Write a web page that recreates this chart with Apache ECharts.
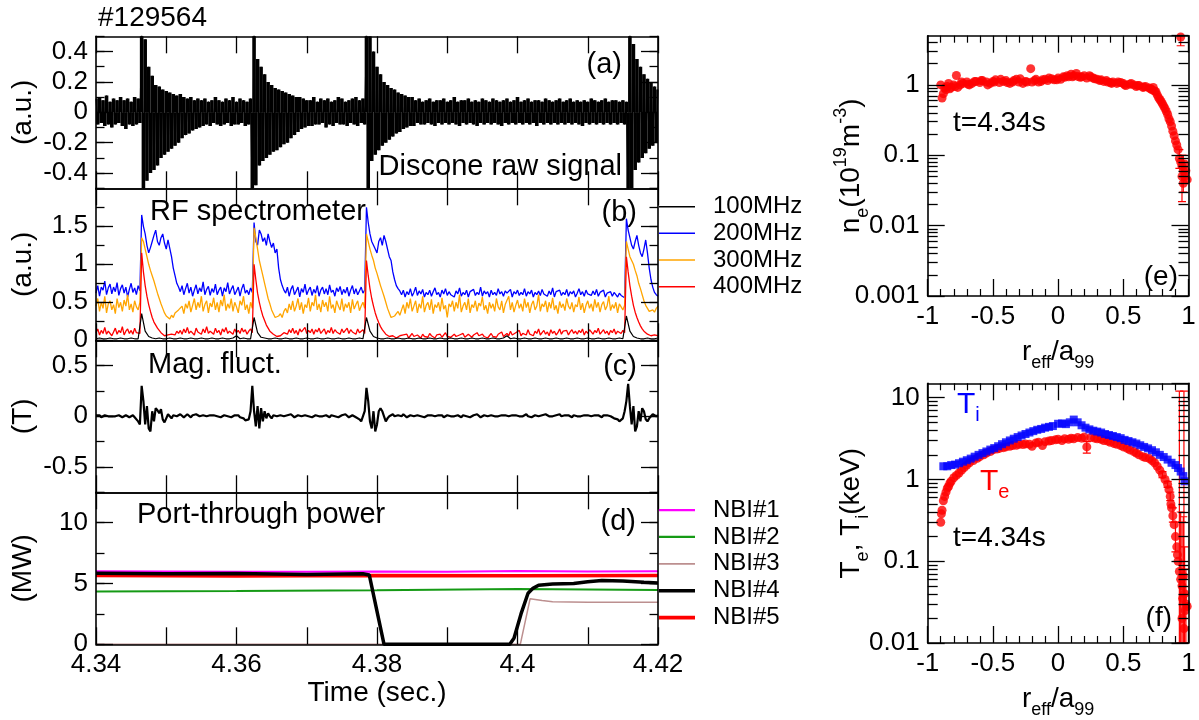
<!DOCTYPE html>
<html><head><meta charset="utf-8">
<script src="https://cdn.jsdelivr.net/npm/echarts@6.0.0/dist/echarts.min.js"></script>
<style>html,body{margin:0;padding:0;background:#fff}#c{width:1199px;height:720px}</style>
</head><body><div id="c"></div>
<script>
const FONT = '"Liberation Sans", Arial, sans-serif';
// ---------- time axis ----------
const tMin = 4.34, tMax = 4.42, tStep = 0.01;
// ---------- (a) discone raw signal ----------
const aStart = 4.34, aStep = 0.00025;
const discone = [
.09,-.08,.1,-.07,.08,-.09,.11,-.08,.07,-.1,
.09,-.08,.08,-.07,.1,-.09,.08,-.11,.09,-.08,
.07,-.09,.1,-.08,.09,-.07,.6,-.6,.48,-.45,
.3,-.4,.24,-.38,.18,-.35,.17,-.3,.15,-.28,
.14,-.26,.13,-.24,.12,-.22,.11,-.2,.12,-.17,
.1,-.15,.09,-.14,.1,-.12,.08,-.11,.09,-.1,
.08,-.09,.09,-.08,.07,-.09,.08,-.07,.1,-.08,
.08,-.09,.07,-.08,.09,-.07,.08,-.09,.1,-.08,
.07,-.08,.09,-.07,.08,-.09,.07,-.08,.09,-.6,
.6,-.48,.35,-.35,.3,-.32,.25,-.3,.2,-.28,
.18,-.26,.16,-.25,.15,-.23,.14,-.21,.13,-.2,
.12,-.17,.11,-.15,.1,-.13,.1,-.11,.09,-.1,
.08,-.09,.08,-.09,.1,-.08,.07,-.08,.09,-.07,
.08,-.1,.09,-.08,.07,-.09,.08,-.07,.1,-.08,
.09,-.08,.07,-.09,.08,-.07,.09,-.08,.1,-.09,
.08,-.07,.09,-.08,.6,-.6,.5,-.32,.4,-.28,
.3,-.25,.25,-.22,.2,-.2,.18,-.18,.16,-.16,
.15,-.14,.13,-.13,.12,-.11,.11,-.1,.1,-.09,
.1,-.09,.08,-.07,.09,-.08,.07,-.08,.08,-.07,
.09,-.08,.07,-.09,.08,-.07,.08,-.08,.09,-.07,
.07,-.08,.08,-.07,.1,-.08,.07,-.09,.08,-.07,
.08,-.08,.09,-.07,.07,-.08,.08,-.09,.07,-.07,
.09,-.08,.08,-.07,.07,-.08,.09,-.07,.08,-.08,
.07,-.09,.08,-.07,.09,-.08,.07,-.07,.08,-.08,
.1,-.07,.07,-.08,.08,-.07,.09,-.08,.07,-.07,
.08,-.09,.08,-.07,.07,-.08,.09,-.07,.08,-.08,
.07,-.07,.08,-.08,.09,-.07,.07,-.08,.08,-.07,
.09,-.08,.07,-.07,.08,-.08,.07,-.09,.08,-.07,
.07,-.08,.09,-.07,.08,-.08,.07,-.07,.08,-.08,
.09,-.07,.07,-.08,.08,-.07,.08,-.08,.07,-.07,
.08,-.08,.07,-.6,.6,-.5,.45,-.38,.35,-.33,
.3,-.3,.25,-.27,.22,-.24,.2,-.22,.17,-.2,.15];
const aMajor = [-0.4,-0.2,0,0.2,0.4];
// ---------- (b) RF spectrometer ----------
const rf100Start = 4.34, rf100Step = 0.0005;
const rf100 = [
.02,.03,.02,.02,.03,.02,.02,.03,.02,.02,
.03,.02,.02,.35,.12,.05,.03,.02,.03,.02,
.02,.03,.02,.02,.03,.02,.02,.03,.02,.02,
.03,.02,.02,.03,.02,.02,.03,.02,.02,.03,
.06,.02,.03,.02,.02,.3,.1,.04,.03,.02,
.02,.03,.02,.02,.03,.02,.02,.03,.02,.02,
.03,.02,.02,.03,.02,.02,.03,.02,.02,.03,
.02,.02,.03,.02,.02,.03,.02,.3,.12,.05,
.03,.02,.02,.03,.02,.02,.03,.02,.02,.03,
.02,.02,.03,.02,.02,.03,.02,.02,.03,.02,
.02,.03,.02,.02,.03,.02,.02,.03,.02,.02,
.03,.02,.02,.03,.02,.02,.03,.06,.02,.03,
.02,.02,.03,.02,.02,.03,.02,.02,.03,.02,
.02,.03,.02,.02,.03,.02,.02,.03,.02,.02,
.03,.02,.02,.03,.02,.02,.03,.02,.02,.03,
.02,.32,.12,.05,.03,.02,.02,.03,.02,.02,.03];
const rfStart = 4.34, rfStep = 0.00025;
const rf200 = [
.62,.72,.58,.7,.66,.78,.6,.69,.74,.61,
.7,.64,.76,.59,.68,.73,.62,.7,.57,.67,
.75,.63,.69,.6,.72,.65,
1.65,1.5,1.4,1.25,1.15,1.22,1.3,1.38,1.45,1.3,1.25,1.35,1.4,1.28,1.2,1.32,1.3,1.1,.95,.85,.75,.7,
.64,.72,.6,.68,.75,.62,.7,.58,.66,.73,
.61,.69,.64,.77,.6,.67,.71,.59,.68,.63,
.74,.6,.66,.7,.58,.69,.64,.76,.61,.67,
.72,.6,.65,.7,.58,.68,.74,.62,.66,.6,.69,.63,
1.55,1.3,1.25,1.45,1.4,1.3,1.35,1.25,1.4,1.3,1.22,1.28,1.15,1.2,.95,.8,.72,.66,
.62,.7,.58,.67,.72,.6,.65,.7,.57,.68,
.63,.74,.6,.66,.7,.59,.67,.62,.72,.58,
.66,.7,.61,.68,.6,.73,.63,.66,.58,.69,
.64,.71,.6,.67,.62,.7,.58,.66,.72,.61,.68,.6,.65,.7,.62,.66,
1.75,1.55,1.4,1.3,1.25,1.2,1.15,1.3,1.35,1.25,1.38,1.3,1.2,1.1,1.05,.9,.8,.72,.68,.65,
.6,.66,.57,.64,.6,.68,.58,.63,.7,.59,
.65,.61,.67,.57,.63,.6,.66,.58,.64,.69,
.6,.63,.57,.66,.61,.68,.59,.64,.6,.62,
.57,.65,.61,.69,.58,.63,.6,.66,.57,.64,
.62,.67,.59,.63,.6,.7,.58,.65,.61,.64,
.57,.66,.6,.63,.59,.68,.61,.64,.58,.65,
.62,.6,.67,.57,.64,.61,.66,.59,.63,.6,
.68,.58,.64,.61,.66,.57,.63,.6,.65,.59,
.67,.61,.63,.58,.65,.6,.69,.57,.64,.62,
.66,.59,.63,.6,.67,.58,.64,.61,.65,.57,
.62,.68,.6,.64,.58,.66,.61,.63,.59,.65,
.6,.67,.58,.63,.61,.66,.57,.62,.6,.64,
.58,.63,.6,.57,.62,.59,.61,.56,
1.6,1.45,1.35,1.25,1.2,1.3,1.38,1.25,1.15,1.1,1.2,1.32,1.15,.95,.8,.7,.63,.6,.58];
const rf300 = [
.45,.55,.38,.5,.42,.58,.36,.48,.52,.4,
.47,.35,.55,.43,.5,.38,.53,.45,.6,.4,
.48,.37,.52,.44,.4,.5,
1.35,1.3,1.2,1.1,1.0,.92,.85,.78,.7,.62,.55,.48,.42,.36,.32,.3,.28,.33,.3,.36,.34,.4,
.38,.45,.35,.48,.42,.52,.37,.46,.55,.4,
.5,.43,.58,.38,.47,.52,.36,.49,.44,.56,
.4,.5,.37,.53,.45,.6,.39,.48,.42,.55,
.38,.5,.44,.36,.52,.46,.58,.4,.47,.35,.5,.42,
1.48,1.35,1.2,1.05,.95,.85,.75,.65,.55,.48,.4,.35,.3,.28,.32,.35,.3,.38,
.42,.36,.48,.4,.52,.38,.45,.55,.4,.5,
.35,.47,.43,.56,.38,.5,.45,.6,.4,.48,
.37,.53,.44,.5,.38,.58,.42,.47,.36,.52,
.45,.4,.55,.38,.48,.43,.5,.36,.54,.41,.47,.52,.39,.45,.5,.42,
1.4,1.3,1.2,1.12,1.05,.95,.88,.8,.72,.65,.58,.5,.42,.36,.3,.28,.32,.35,.38,.33,
.4,.47,.35,.5,.42,.55,.38,.45,.52,.36,
.48,.42,.58,.37,.46,.5,.4,.54,.35,.47,
.43,.5,.38,.56,.41,.46,.3,.48,.44,.52,
.38,.5,.42,.6,.37,.45,.5,.4,.55,.36,
.47,.43,.52,.38,.49,.45,.57,.4,.46,.35,
.5,.42,.48,.38,.55,.44,.4,.52,.36,.47,
.45,.58,.4,.5,.37,.46,.53,.42,.48,.38,
.55,.43,.5,.36,.47,.52,.4,.45,.6,.38,
.48,.44,.52,.37,.5,.42,.56,.4,.46,.35,
.51,.43,.48,.39,.55,.45,.41,.5,.37,.47,
.44,.57,.4,.49,.36,.46,.52,.42,.48,.38,
.54,.43,.5,.37,.47,.51,.4,.45,.58,.39,
.47,.42,.5,.36,.48,.44,.4,.46,
1.3,1.2,1.1,1.05,1.0,.92,.85,.75,.68,.6,.52,.46,.42,.38,.36,.4,.37,.42,.45];
const rf400 = [
.1,.15,.07,.13,.09,.17,.08,.12,.14,.06,
.11,.16,.08,.13,.1,.18,.07,.12,.15,.09,
.13,.08,.16,.1,.12,.09,
1.15,.9,.72,.58,.47,.38,.3,.24,.2,.16,.13,.1,.08,.06,.05,.07,.05,.08,.1,.07,.12,.09,
.13,.08,.15,.1,.17,.09,.12,.14,.07,.16,
.11,.13,.08,.15,.1,.18,.09,.12,.14,.08,
.16,.1,.13,.07,.15,.11,.17,.09,.12,.14,
.08,.15,.1,.13,.09,.16,.11,.14,.08,.12,.15,.1,
1.0,.8,.62,.5,.4,.32,.26,.2,.16,.12,.1,.08,.06,.05,.07,.06,.08,.1,
.12,.08,.14,.1,.16,.09,.13,.07,.15,.11,
.12,.17,.09,.13,.1,.15,.08,.14,.11,.16,
.09,.12,.15,.08,.13,.1,.17,.09,.14,.11,
.13,.08,.15,.1,.12,.16,.09,.14,.11,.13,.08,.15,.1,.12,.14,.09,
1.05,.85,.68,.55,.45,.36,.29,.23,.18,.14,.11,.08,.06,.05,.04,.06,.05,.03,.05,.06,
.04,.07,.05,.08,.03,.06,.09,.05,.04,.07,
.06,.03,.08,.05,.07,.04,.09,.06,.05,.03,
.07,.05,.08,.04,.06,.1,.05,.07,.04,.06,
.08,.05,.03,.07,.06,.09,.04,.05,.08,.06,
.04,.07,.05,.1,.06,.04,.08,.05,.07,.03,
.06,.09,.05,.07,.04,.08,.06,.11,.05,.07,
.09,.06,.12,.07,.05,.1,.08,.13,.06,.09,
.11,.07,.14,.08,.1,.06,.12,.09,.15,.07,
.1,.13,.08,.11,.06,.14,.09,.12,.07,.1,
.15,.08,.12,.1,.13,.07,.11,.14,.09,.12,
.08,.13,.1,.15,.07,.12,.09,.14,.11,.08,
.13,.1,.16,.08,.11,.14,.09,.12,.07,.13,
.1,.15,.08,.12,.11,.09,.13,.1,
1.1,.9,.72,.58,.46,.37,.3,.24,.19,.15,.12,.1,.08,.07,.06,.05,.07,.05,.06];
const bMajor = [0,0.5,1,1.5];
// ---------- (c) magnetic fluctuation ----------
const magStart = 4.34, magStep = 0.00025;
const magFluct = [
.01,0,.01,-.01,0,.01,.01,0,-.01,0,
.01,0,.01,.01,0,-.01,0,.01,0,-.01,
0,.01,-.01,-.02,-.05,-.08,.3,.15,-.08,.1,
-.12,-.15,.05,-.05,.08,.06,.03,.07,-.03,-.06,
-.02,.02,0,-.02,.01,.02,0,-.01,.02,.01,
-.01,0,.02,.01,-.01,.01,0,.02,.01,0,
-.01,.01,.02,0,-.01,.01,0,.01,.02,0,
.01,-.01,0,.01,.02,0,.01,-.01,0,.01,
0,.01,-.01,0,-.02,-.04,-.05,-.03,.05,.3,
.05,-.1,.1,-.12,.08,-.05,.05,-.02,.03,0,
-.02,.01,.02,0,-.01,.01,.02,0,-.01,.01,
0,.02,.01,-.01,0,.01,.01,0,-.01,.01,
.02,0,.01,-.01,0,.01,.02,0,-.01,0,
.01,.01,0,-.01,.01,.02,0,.01,-.01,0,
.01,0,.02,.01,-.01,0,.01,0,-.01,-.02,
-.03,-.05,-.04,.05,.28,.15,-.05,-.12,.05,-.15,
-.08,.05,.08,.05,0,-.05,-.02,0,.01,.02,
0,-.01,.01,.01,0,.02,.01,-.01,0,.01,
.01,0,-.01,.01,.02,0,.01,-.01,0,.01,
0,.01,.02,0,-.01,.01,0,.01,-.01,0,
.01,.02,0,-.01,0,.01,.01,0,-.01,.01,
.02,0,.01,-.01,0,.01,0,.02,.01,-.01,
0,.01,.01,0,-.01,.01,.02,0,.01,0,
-.01,.01,0,.01,.02,0,-.01,.01,0,.01,
.01,0,-.01,0,.01,.02,0,.01,-.01,0,
.01,.01,0,-.01,.01,0,.02,.01,0,-.01,
0,.01,.01,0,.02,0,-.01,.01,0,.01,
0,-.01,.01,.02,0,.01,0,-.01,.01,0,
.01,.02,0,-.01,.01,0,.01,0,-.01,.01,
0,.01,.02,0,-.01,-.02,-.01,-.03,-.05,-.04,
-.02,.05,.15,.32,.1,-.08,.1,-.15,-.1,.05,
-.05,.08,.05,-.03,-.05,-.02,0,.02,.01,0,.01];
const cMajor = [-0.5,0,0.5];
// ---------- (d) port-through power ----------
const nbi1T = [4.34,4.35,4.36,4.37,4.38,4.39,4.40,4.41,4.42];
const nbi1  = [6.0,5.98,5.96,5.97,5.99,5.96,6.02,5.98,6.0];
const nbi2T = [4.34,4.36,4.38,4.40,4.42];
const nbi2  = [4.35,4.38,4.45,4.55,4.47];
const nbi3T = [4.34,4.4004,4.4018,4.4035,4.405,4.41,4.42];
const nbi3  = [0,0,3.75,3.6,3.5,3.45,3.45];
const nbi4T = [4.34,4.35,4.36,4.37,4.378,4.3789,4.381,4.3989,4.3995,4.4005,4.4015,4.4022,4.403,4.405,4.408,4.41,4.412,4.415,4.418,4.42];
const nbi4  = [5.85,5.8,5.82,5.75,5.8,5.7,0,0,0.5,2.5,4.2,4.6,4.85,4.95,5.0,5.15,5.25,5.2,5.1,5.05];
const nbi5T = [4.34,4.36,4.38,4.40,4.42];
const nbi5  = [5.65,5.62,5.66,5.63,5.66];
const dMajor = [0,5,10];
// ---------- (e) density profile ----------
const neR = [-0.9,-0.89,-0.88,-0.87,-0.86,-0.85,-0.83,-0.82,-0.8,-0.78,-0.77,-0.75,-0.73,-0.7,-0.68,-0.66,-0.63,-0.6,-0.58,-0.55,-0.52,-0.5,-0.48,-0.45,-0.42,-0.4,-0.37,-0.35,-0.32,-0.3,-0.27,-0.25,-0.21,-0.2,-0.18,-0.15,-0.12,-0.1,-0.08,-0.05,-0.03,0,0.02,0.05,0.08,0.1,0.12,0.15,0.18,0.2,0.22,0.25,0.28,0.3,0.33,0.35,0.38,0.4,0.42,0.45,0.48,0.5,0.52,0.55,0.58,0.6,0.62,0.65,0.67,0.7,0.72,0.74,0.76,0.78,0.8,0.82,0.84,0.86,0.87,0.88,0.89,0.9,0.91,0.92,0.93,0.94,0.95,0.96,0.97,0.98,0.99,0.95,0.97,0.96,0.94];
const neV = [1.0,0.65,0.75,0.9,0.85,0.95,0.88,0.92,1.0,1.36,0.92,1.0,1.05,1.1,1.0,1.05,1.12,1.08,1.15,1.1,1.05,1.12,1.18,1.08,1.12,1.15,1.05,1.1,1.2,1.1,1.05,1.12,1.7,1.1,1.15,1.1,1.18,1.2,1.15,1.22,1.18,1.25,1.2,1.28,1.3,1.42,1.35,1.32,1.3,1.35,1.25,1.3,1.22,1.2,1.18,1.12,1.1,1.08,1.1,1.05,1.08,1.05,0.98,1.02,1.0,0.95,0.98,0.92,0.95,0.9,0.85,0.82,0.72,0.62,0.54,0.46,0.38,0.3,0.26,0.22,0.19,0.16,0.14,0.12,0.09,0.08,0.07,0.06,0.05,0.06,0.045,0.05,0.075,0.04,4.8];
const neR2 = [-0.84,-0.79,-0.74,-0.69,-0.64,-0.59,-0.54,-0.49,-0.44,-0.39,-0.34,-0.29,-0.24,-0.17,-0.13,-0.07,-0.01,0.04,0.07,0.11,0.14,0.17,0.24,0.27,0.32,0.37,0.41,0.46,0.51,0.56,0.61,0.66,0.71,0.73,0.75,0.77,0.79,0.81,0.83,0.85];
const neV2 = [1.05,0.95,1.1,1.02,1.12,1.15,1.0,1.1,1.2,1.08,1.15,1.22,1.1,1.2,1.12,1.25,1.18,1.3,1.35,1.3,1.45,1.28,1.35,1.25,1.15,1.15,1.05,1.1,1.0,1.05,0.98,0.93,0.88,0.92,0.8,0.66,0.58,0.5,0.42,0.33];
const neErrR  = [0.94,0.95,0.96,0.93];
const neErrV  = [4.8,0.05,0.06,0.09];
const neErrLo = [3.6,0.022,0.03,0.065];
const neErrHi = [5,0.1,0.1,0.12];
// ---------- (f) temperature profiles ----------
const tiR = [-0.88,-0.85,-0.82,-0.79,-0.76,-0.73,-0.7,-0.67,-0.64,-0.61,-0.58,-0.55,-0.52,-0.49,-0.46,-0.43,-0.4,-0.37,-0.34,-0.31,-0.28,-0.25,-0.22,-0.19,-0.16,-0.13,-0.1,-0.07,-0.04,0,0.03,0.06,0.09,0.12,0.15,0.18,0.21,0.24,0.27,0.3,0.33,0.36,0.39,0.42,0.45,0.48,0.51,0.54,0.57,0.6,0.63,0.66,0.69,0.72,0.75,0.78,0.81,0.84,0.87,0.9,0.92,0.94,0.96,0.97];
const tiV = [1.45,1.45,1.5,1.52,1.58,1.65,1.72,1.8,1.9,2.0,2.1,2.2,2.32,2.42,2.55,2.7,2.85,3.0,3.15,3.3,3.45,3.6,3.75,3.9,4.05,4.15,4.3,4.4,4.5,4.8,4.85,4.75,5.0,5.4,5.0,4.6,4.3,4.1,3.95,3.85,3.75,3.6,3.5,3.4,3.3,3.2,3.05,2.95,2.85,2.75,2.62,2.5,2.4,2.28,2.15,2.0,1.88,1.75,1.6,1.5,1.38,1.25,1.1,0.95];
const teR = [-0.9,-0.895,-0.89,-0.88,-0.87,-0.86,-0.85,-0.84,-0.83,-0.82,-0.8,-0.78,-0.76,-0.74,-0.72,-0.7,-0.68,-0.65,-0.62,-0.6,-0.57,-0.55,-0.52,-0.5,-0.47,-0.45,-0.42,-0.4,-0.37,-0.35,-0.32,-0.3,-0.27,-0.25,-0.22,-0.2,-0.17,-0.15,-0.12,-0.1,-0.07,-0.05,-0.02,0,0.03,0.05,0.08,0.1,0.12,0.15,0.18,0.2,0.22,0.25,0.28,0.3,0.33,0.35,0.38,0.4,0.43,0.45,0.48,0.5,0.53,0.55,0.58,0.6,0.62,0.65,0.67,0.7,0.72,0.74,0.76,0.78,0.8,0.82,0.84,0.85,0.86,0.865,0.87,0.88,0.89,0.9,0.91,0.915,0.92,0.93,0.94,0.95,0.96,0.97,0.98,0.99,0.95,0.965,0.975,0.955];
const teV = [0.3,0.38,0.42,0.55,0.62,0.7,0.78,0.82,0.9,0.95,1.05,1.12,1.2,1.3,1.4,1.5,1.6,1.7,1.82,1.9,2.0,2.1,2.2,2.3,2.35,2.4,2.45,2.5,2.55,2.6,2.62,2.7,2.68,2.72,2.7,2.55,2.8,2.85,2.6,2.9,2.95,3.0,3.05,3.1,3.0,3.15,3.1,3.2,3.15,3.25,3.2,3.3,2.5,3.25,3.2,3.15,3.1,3.0,2.95,2.85,2.75,2.7,2.6,2.5,2.4,2.3,2.2,2.1,2.0,1.9,1.85,1.8,1.7,1.6,1.45,1.3,1.15,1.0,0.87,0.75,0.62,0.5,0.45,0.36,0.28,0.2,0.15,0.12,0.1,0.075,0.06,0.05,0.065,0.04,0.03,0.028,0.02,0.015,0.025,0.035];
const teErrR  = [0.22,0.93,0.965,0.94,0.95,0.96,0.97,0.98,0.9,0.88,0.86,0.84,0.8];
const teErrV  = [2.5,0.075,0.04,0.06,0.05,0.065,0.04,0.03,0.2,0.36,0.62,0.87,1.15];
const teErrLo = [2.1,0.01,0.01,0.01,0.01,0.01,0.01,0.01,0.13,0.3,0.55,0.8,1.05];
const teErrHi = [2.9,12,12,0.4,0.3,0.35,0.15,0.08,0.3,0.45,0.7,0.95,1.25];

// ================= build =================
const L = Math.log10;
const grids = [
  {left:96, width:562, top:36.3, height:152},
  {left:96, width:562, top:188.3, height:152},
  {left:96, width:562, top:340.3, height:152},
  {left:96, width:562, top:492.3, height:152},
  {left:927.7, width:260.8, top:35.7, height:260.3},
  {left:927.7, width:260.8, top:383.3, height:261}
];
const xAxes = [], yAxes = [];
function push(list, o){ list.push(o); return list.length - 1; }
function baseAxis(gi, pos, min, max, interval, showLine){
  return {type:'value', gridIndex:gi, position:pos, min:min, max:max, interval:interval, silent:true, z:5,
    axisLine:{show:showLine, onZero:false, lineStyle:{color:'#000', width:1.6}},
    axisTick:{show:true, inside:true, length:17, lineStyle:{color:'#000', width:1.3}},
    axisLabel:{show:false}, splitLine:{show:false},
    minorTick:{show:false}, minorSplitLine:{show:false}};
}
const lab = {show:true, color:'#000', fontFamily:FONT, fontSize:26, margin:8};
const nameStyle = {color:'#000', fontFamily:FONT, fontSize:28, lineHeight:30};
const richSub = {
  m:{fontFamily:FONT, fontSize:28, lineHeight:40, color:'#000'},
  b:{fontFamily:FONT, fontSize:18, lineHeight:18, verticalAlign:'bottom', color:'#000'},
  t:{fontFamily:FONT, fontSize:18, lineHeight:18, verticalAlign:'top', color:'#000'}
};

const leftPanels = [
  {min:-0.5, max:0.5, step:0.1, major:aMajor, name:'(a.u.)'},
  {min:0, max:2, step:0.25, major:bMajor, name:'(a.u.)'},
  {min:-0.75, max:0.75, step:0.25, major:cMajor, name:'(T)'},
  {min:0, max:12.5, step:2.5, major:dMajor, name:'(MW)'}
];
const LA = [];
leftPanels.forEach(function(p, gi){
  const xb = baseAxis(gi, 'bottom', tMin, tMax, tStep, true);
  if (gi === 3) {
    xb.axisLabel = Object.assign({}, lab, {formatter: function(v){ const k = Math.round(v*100); return k % 2 === 0 ? String(k/100) : ''; }});
    xb.name = 'Time (sec.)'; xb.nameLocation = 'middle'; xb.nameGap = 35; xb.nameMoveOverlap = false;
    xb.nameTextStyle = {color:'#000', fontFamily:FONT, fontSize:28, lineHeight:28};
  }
  const xi = push(xAxes, xb);
  push(xAxes, baseAxis(gi, 'top', tMin, tMax, tStep, true));
  const ym = baseAxis(gi, 'left', p.min, p.max, p.step, true);
  ym.axisTick.customValues = p.major;
  ym.axisLabel = Object.assign({}, lab, {customValues: p.major, formatter: function(v){ return String(+(+v).toFixed(2)); }});
  ym.name = p.name; ym.nameLocation = 'middle'; ym.nameRotate = 90; ym.nameGap = 58; ym.nameMoveOverlap = false;
  ym.nameTextStyle = nameStyle;
  const yi = push(yAxes, ym);
  const yr = baseAxis(gi, 'right', p.min, p.max, p.step, true);
  yr.axisTick.customValues = p.major;
  push(yAxes, yr);
  const yml = baseAxis(gi, 'left', p.min, p.max, p.step, false); yml.axisTick.length = 8.5; push(yAxes, yml);
  const ymr = baseAxis(gi, 'right', p.min, p.max, p.step, false); ymr.axisTick.length = 8.5; push(yAxes, ymr);
  LA.push({x:xi, y:yi});
});

function powLabel(v){
  const r = Math.round(v);
  if (Math.abs(v - r) > 1e-6) return '';
  if (r >= 0) return String(Math.pow(10, r));
  return '0.' + '0'.repeat(-r - 1) + '1';
}
function minorLog(a, b){
  const out = [];
  for (let k = Math.floor(a); k <= Math.ceil(b); k++) {
    for (let m = 2; m <= 9; m++) { const v = k + L(m); if (v > a + 1e-9 && v < b - 1e-9) out.push(v); }
  }
  return out;
}
const rightPanels = [
  {gi:4, ymin:-3, ymax:L(5), name:'{m|n}{b|e}{m|(10}{t|19}{m|m}{t|-3}{m|)}'},
  {gi:5, ymin:-2, ymax:L(15), name:'{m|T}{b|e}{m|, T}{b|i}{m|(keV)}'}
];
const RA = [];
rightPanels.forEach(function(p){
  const gi = p.gi;
  function rx(pos){
    const a = baseAxis(gi, pos, -1, 1, 0.5, true);
    a.minorTick = {show:true, splitNumber:5, length:7, lineStyle:{color:'#000', width:1.2}};
    return a;
  }
  const xb = rx('bottom');
  xb.axisLabel = Object.assign({}, lab, {formatter: function(v){ return String(+(+v).toFixed(1)); }});
  xb.name = '{m|r}{b|eff}{m|/a}{b|99}'; xb.nameLocation = 'middle'; xb.nameGap = 36; xb.nameMoveOverlap = false;
  xb.nameTextStyle = {color:'#000', fontFamily:FONT, rich:richSub};
  const xi = push(xAxes, xb);
  push(xAxes, rx('top'));
  const ym = baseAxis(gi, 'left', p.ymin, p.ymax, 1, true);
  ym.axisLabel = Object.assign({}, lab, {formatter: powLabel, showMaxLabel:false});
  ym.name = p.name; ym.nameLocation = 'middle'; ym.nameRotate = 90; ym.nameGap = 56; ym.nameMoveOverlap = false;
  ym.nameTextStyle = {color:'#000', fontFamily:FONT, rich:richSub};
  const yi = push(yAxes, ym);
  push(yAxes, baseAxis(gi, 'right', p.ymin, p.ymax, 1, true));
  const mv = minorLog(p.ymin, p.ymax);
  const y3 = baseAxis(gi, 'left', p.ymin, p.ymax, 1, false); y3.axisTick.length = 10; y3.axisTick.customValues = mv; push(yAxes, y3);
  const y4 = baseAxis(gi, 'right', p.ymin, p.ymax, 1, false); y4.axisTick.length = 10; y4.axisTick.customValues = mv; push(yAxes, y4);
  RA.push({x:xi, y:yi});
});

function ts(start, step, arr){ return arr.map(function(v, i){ return [+(start + i*step).toFixed(6), v]; }); }
function zip(t, v){ return t.map(function(x, i){ return [x, v[i]]; }); }
function lineS(name, ax, data, color, width){
  return {type:'line', name:name, xAxisIndex:ax.x, yAxisIndex:ax.y, data:data, symbol:'none', showSymbol:false,
    color:color, itemStyle:{color:color}, lineStyle:{color:color, width:width}, clip:true, z:2, silent:true};
}
const series = [];
// raw signal: a stem from zero for each sample, plus the trace itself
series.push({type:'custom', name:'disconeStem', xAxisIndex:LA[0].x, yAxisIndex:LA[0].y, data:ts(aStart, aStep, discone),
  encode:{x:0, y:1}, clip:true, z:2, silent:true,
  renderItem:function(params, api){
    const t = api.value(0);
    const p0 = api.coord([t, 0]), p1 = api.coord([t, api.value(1)]);
    const w = 3.6;
    return {type:'rect', shape:{x:p0[0] - w/2, y:Math.min(p0[1], p1[1]), width:w, height:Math.abs(p1[1] - p0[1])},
      style:{fill:'#000'}};
  }});
series.push(lineS('discone', LA[0], ts(aStart, aStep, discone), '#000', 1.1));
series.push(lineS('200MHz', LA[1], ts(rfStart, rfStep, rf200), '#0000ff', 1.3));
series.push(lineS('300MHz', LA[1], ts(rfStart, rfStep, rf300), '#ffa500', 1.3));
series.push(lineS('400MHz', LA[1], ts(rfStart, rfStep, rf400), '#ff0000', 1.3));
series.push(lineS('100MHz', LA[1], ts(rf100Start, rf100Step, rf100), '#000000', 1.2));
series.push(lineS('mag', LA[2], ts(magStart, magStep, magFluct), '#000', 2.2));
series.push(lineS('NBI#1', LA[3], zip(nbi1T, nbi1), '#ff00ff', 2));
series.push(lineS('NBI#2', LA[3], zip(nbi2T, nbi2), '#159a15', 2));
series.push(lineS('NBI#3', LA[3], zip(nbi3T, nbi3), '#bc8f8f', 1.5));
series.push(lineS('NBI#5', LA[3], zip(nbi5T, nbi5), '#ff0000', 3.5));
series.push(lineS('NBI#4', LA[3], zip(nbi4T, nbi4), '#000000', 3.5));

function errRender(color){
  return function(params, api){
    const x = api.value(0);
    const p1 = api.coord([x, api.value(2)]);
    const p2 = api.coord([x, api.value(3)]);
    const c = 4, st = {stroke:color, lineWidth:1.2};
    return {type:'group', children:[
      {type:'line', shape:{x1:p1[0], y1:p1[1], x2:p2[0], y2:p2[1]}, style:st},
      {type:'line', shape:{x1:p1[0]-c, y1:p1[1], x2:p1[0]+c, y2:p1[1]}, style:st},
      {type:'line', shape:{x1:p2[0]-c, y1:p2[1], x2:p2[0]+c, y2:p2[1]}, style:st}
    ]};
  };
}
function errData(r, v, lo, hi){ return r.map(function(x, i){ return [x, L(v[i]), L(lo[i]), L(hi[i])]; }); }
function logData(r, v){ return r.map(function(x, i){ return [x, L(v[i])]; }); }

series.push({type:'custom', xAxisIndex:RA[0].x, yAxisIndex:RA[0].y, renderItem:errRender('#ff0000'),
  encode:{x:0, y:1}, data:errData(neErrR, neErrV, neErrLo, neErrHi), clip:true, z:2, silent:true});
series.push({type:'scatter', xAxisIndex:RA[0].x, yAxisIndex:RA[0].y, data:logData(neR, neV).concat(logData(neR2, neV2)),
  symbol:'circle', symbolSize:9, itemStyle:{color:'#ff0000'}, z:3, silent:true});
series.push({type:'custom', xAxisIndex:RA[1].x, yAxisIndex:RA[1].y, renderItem:errRender('#ff0000'),
  encode:{x:0, y:1}, data:errData(teErrR, teErrV, teErrLo, teErrHi), clip:true, z:2, silent:true});
series.push({type:'scatter', xAxisIndex:RA[1].x, yAxisIndex:RA[1].y, data:logData(teR, teV),
  symbol:'circle', symbolSize:9, itemStyle:{color:'#ff0000'}, z:3, silent:true});
series.push({type:'scatter', xAxisIndex:RA[1].x, yAxisIndex:RA[1].y, data:logData(tiR, tiV),
  symbol:'rect', symbolSize:8, itemStyle:{color:'#0000ff'}, z:4, silent:true});

function icon(w){ return 'path://M0,0H36V' + w + 'H0Z'; }
const legends = [
  {data:[{name:'100MHz', icon:icon(1.5)},{name:'200MHz', icon:icon(1.5)},{name:'300MHz', icon:icon(1.5)},{name:'400MHz', icon:icon(1.5)}],
   top:193.3, lh:26.7},
  {data:[{name:'NBI#1', icon:icon(2.2)},{name:'NBI#2', icon:icon(2.2)},{name:'NBI#3', icon:icon(1.6)},{name:'NBI#4', icon:icon(3.6)},{name:'NBI#5', icon:icon(3.6)}],
   top:496.6, lh:26.9}
].map(function(l){
  return {data:l.data, orient:'vertical', left:659, top:l.top, itemWidth:36, itemHeight:14, itemGap:0, padding:0,
    selectedMode:false, itemStyle:{borderWidth:0}, lineStyle:{width:0},
    textStyle:{fontFamily:FONT, fontSize:24, color:'#000', lineHeight:l.lh, padding:[0,0,0,13]}};
});

function txt(x, y, s, opt){
  opt = opt || {};
  return {type:'text', x:x, y:y, silent:true, style:Object.assign({text:s, fill:'#000', font:(opt.size||29)+'px ' + FONT,
    align:opt.align||'left', verticalAlign:'middle'}, opt.style||{})};
}
function richTxt(x, y, main, sub, color){
  return {type:'text', x:x, y:y, silent:true, style:{text:'{m|' + main + '}{s|' + sub + '}', align:'left', verticalAlign:'middle',
    rich:{m:{fill:color, color:color, fontFamily:FONT, fontSize:30, lineHeight:40},
          s:{fill:color, color:color, fontFamily:FONT, fontSize:20, lineHeight:20, verticalAlign:'bottom'}}}};
}
const graphics = [
  txt(98, 18, '#129564', {size:28}),
  txt(622, 65, '(a)', {align:'right'}),
  txt(622, 167, 'Discone raw signal', {align:'right'}),
  txt(637, 213, '(b)', {align:'right'}),
  txt(150, 212, 'RF spectrometer'),
  txt(637, 367, '(c)', {align:'right'}),
  txt(148, 365, 'Mag. fluct.'),
  txt(636, 522, '(d)', {align:'right'}),
  txt(137, 515, 'Port-through power'),
  txt(953, 123, 't=4.34s', {size:28}),
  txt(1178, 277, '(e)', {size:28, align:'right'}),
  txt(953, 538, 't=4.34s', {size:28}),
  txt(1172, 618, '(f)', {size:28, align:'right'}),
  richTxt(957, 405, 'T', 'i', '#0000ff'),
  richTxt(980, 482, 'T', 'e', '#ff0000')
];

const chart = echarts.init(document.getElementById('c'), null, {renderer:'canvas'});
chart.setOption({
  animation:false,
  backgroundColor:'#ffffff',
  grid:grids,
  xAxis:xAxes,
  yAxis:yAxes,
  legend:legends,
  series:series,
  graphic:graphics
});
</script></body></html>
